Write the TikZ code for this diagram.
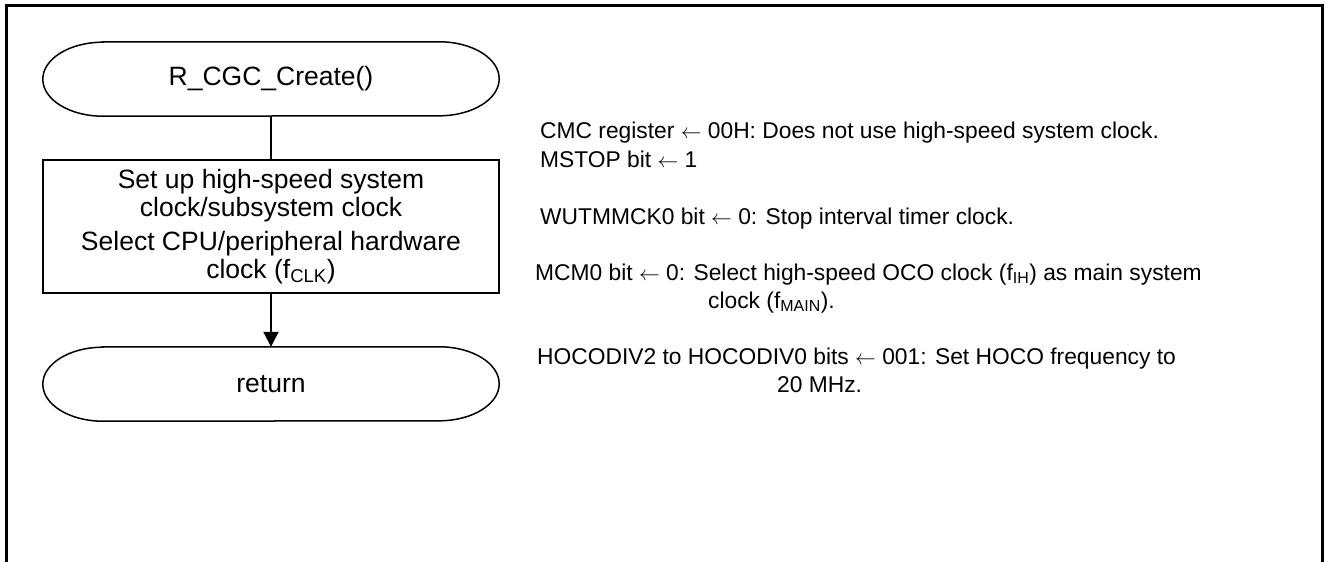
\documentclass[tikz,border=0pt]{standalone}
\usepackage{fontspec}
\setmainfont{Liberation Sans}
\usetikzlibrary{arrows.meta}
\begin{document}
\begin{tikzpicture}[x=1pt,y=-1pt,
  term/.style={draw=none, minimum width=456pt, minimum height=74pt, inner sep=0pt, font=\fontsize{26.5}{28}\selectfont},
  proc/.style={draw, line width=2pt, minimum width=456pt, minimum height=133pt, align=center, inner sep=0pt, font=\fontsize{26.5}{28}\selectfont},
  note/.style={anchor=base west, inner sep=0pt, font=\fontsize{22.8}{28}\selectfont},
  conn/.style={line width=2pt},
  termline/.style={line width=1.5pt}]
\useasboundingbox (0,0) rectangle (1326,562);
\draw[line width=3pt] (6,562) -- (6,5) -- (1322,5) -- (1322,562);
% nodes
\node[term] (start) at (271,79) {R\_CGC\_Create()};
\node[proc] (set) at (271,226.5) {Set up high-speed system\\clock/subsystem clock\\[6pt]Select CPU/peripheral hardware\\clock (f\textsubscript{CLK})};
\node[term] (ret) at (271,384) {return};
% terminal outlines
\foreach \n in {start,ret}{
  \draw[termline] ([xshift=60pt]\n.north west) -- ([xshift=-60pt]\n.north east)
    arc[start angle=90,end angle=-90,x radius=60pt,y radius=37pt]
    -- ([xshift=60pt]\n.south west)
    arc[start angle=270,end angle=90,x radius=60pt,y radius=37pt] -- cycle;
}
% connectors
\draw[conn] (start.south) -- (set.north);
\draw[conn,-{Triangle[length=15pt,width=15pt]}] (set.south) -- (ret.north);
% notes
\node[note] (n1) at (540,138) {CMC register $\leftarrow$ 00H: Does not use high-speed system clock.};
\node[note] (n2) at (540,167) {MSTOP bit $\leftarrow$ 1};
\node[note] (n3) at (540,224) {WUTMMCK0 bit $\leftarrow$ 0: Stop interval timer clock.};
\node[note] (n4) at (535,280) {MCM0 bit $\leftarrow$ 0: Select high-speed OCO clock (f\textsubscript{IH}) as main system};
\node[note] (n5) at (708,308) {clock (f\textsubscript{MAIN}).};
\node[note] (n6) at (537,364) {HOCODIV2 to HOCODIV0 bits $\leftarrow$ 001: Set HOCO frequency to};
\node[note] (n7) at (777,392) {20 MHz.};
\end{tikzpicture}
\end{document}
